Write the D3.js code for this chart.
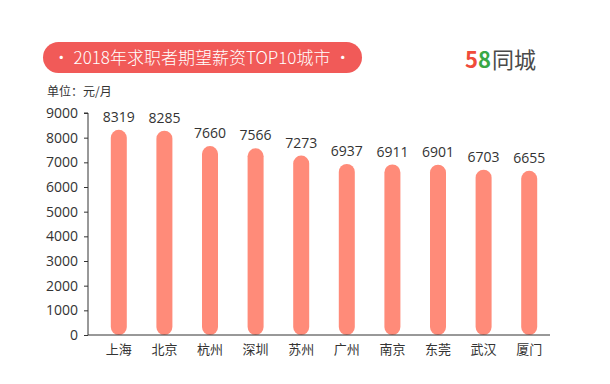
<!DOCTYPE html>
<html>
<head>
<meta charset="utf-8">
<script src="https://cdn.jsdelivr.net/npm/d3@7"></script>
<style>
  body { margin: 0; background: #fff; }
  text { font-family: "Noto Sans CJK SC", "Noto Sans", sans-serif; }
</style>
</head>
<body>
<div id="chart"></div>
<script>
// data
var cities = ["上海", "北京", "杭州", "深圳", "苏州", "广州", "南京", "东莞", "武汉", "厦门"];
var salaries = [8319, 8285, 7660, 7566, 7273, 6937, 6911, 6901, 6703, 6655];
var yTicks = [0, 1000, 2000, 3000, 4000, 5000, 6000, 7000, 8000, 9000];

var W = 610, H = 384;
var svg = d3.select("#chart")
  .append("svg")
    .attr("width", W)
    .attr("height", H);

// title pill
svg.append("rect")
  .attr("x", 43).attr("y", 42)
  .attr("width", 319).attr("height", 31)
  .attr("rx", 15.5)
  .attr("fill", "#F15A58");
svg.append("text")
  .attr("x", 202).attr("y", 63.5)
  .attr("text-anchor", "middle")
  .attr("fill", "#fff")
  .style("font-size", "17px")
  .style("font-weight", "300")
  .text("•  2018年求职者期望薪资TOP10城市  •");

// logo
var logo = svg.append("text")
  .attr("x", 465).attr("y", 68)
  .style("font-size", "22px")
  .style("font-weight", "bold");
logo.append("tspan").attr("fill", "#F04B3A").text("5");
logo.append("tspan").attr("fill", "#39A845").text("8");
logo.append("tspan").attr("fill", "#4a4a4a").style("font-weight", "normal").attr("dx", 1).text("同城");

// unit
svg.append("text")
  .attr("x", 47).attr("y", 96)
  .attr("fill", "#333")
  .style("font-size", "12px")
  .text("单位：元/月");

// scales
var x = d3.scaleBand()
  .domain(cities)
  .range([96, 552]);

var y = d3.scaleLinear()
  .domain([0, 9000])
  .range([335, 113]);

// y axis
var yAxis = svg.append("g")
  .attr("transform", "translate(88,0)")
  .call(d3.axisLeft(y).tickValues(yTicks).tickFormat(d3.format("d")).tickSize(4).tickPadding(6));
yAxis.select(".domain").attr("stroke", "#333").attr("d", "M-4,113H0V335");
yAxis.selectAll(".tick line").attr("stroke", "#333");
yAxis.selectAll("text")
  .attr("fill", "#333")
  .style("font-size", "14px")
  .style("font-family", "'Open Sans', sans-serif");

// bars (rounded both ends)
var bw = 16;
svg.selectAll("rect.bar")
  .data(salaries)
  .enter()
  .append("rect")
    .attr("class", "bar")
    .attr("x", function(d, i) { return x(cities[i]) + x.bandwidth() / 2 - bw / 2; })
    .attr("y", function(d) { return y(d); })
    .attr("width", bw)
    .attr("height", function(d) { return y(0) - y(d); })
    .attr("rx", bw / 2)
    .attr("fill", "#FF8B79");

// x axis line
var xAxis = svg.append("g")
  .attr("transform", "translate(0,335)")
  .call(d3.axisBottom(x).tickSize(0).tickPadding(10));
xAxis.select(".domain").attr("stroke", "#333").attr("d", "M88,0H550");
xAxis.selectAll("text")
  .attr("fill", "#333")
  .style("font-size", "13px")
  .style("font-family", "'Noto Sans CJK SC', sans-serif");

// value labels
svg.selectAll("text.val")
  .data(salaries)
  .enter()
  .append("text")
    .attr("class", "val")
    .attr("x", function(d, i) { return x(cities[i]) + x.bandwidth() / 2; })
    .attr("y", function(d) { return y(d) - 8; })
    .attr("text-anchor", "middle")
    .attr("fill", "#333")
    .style("font-size", "14px")
    .style("font-family", "'Open Sans', sans-serif")
    .text(function(d) { return d; });
</script>
</body>
</html>
